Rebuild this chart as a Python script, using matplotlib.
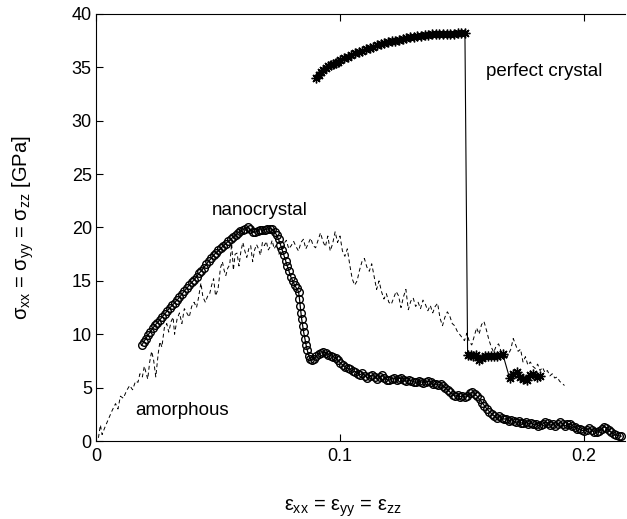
import matplotlib
matplotlib.use("Agg")
import matplotlib.pyplot as plt

plt.rcParams['font.family'] = ['Liberation Sans', 'DejaVu Sans']
plt.rcParams['mathtext.fontset'] = 'custom'
plt.rcParams['mathtext.rm'] = 'Liberation Sans'
plt.rcParams['mathtext.it'] = 'Liberation Sans'
plt.rcParams['mathtext.bf'] = 'Liberation Sans:bold'

# nanocrystal (open circles)
nano_x = [0.0187, 0.0195, 0.0203, 0.0212, 0.0222, 0.0232, 0.0242, 0.0252, 0.0262, 0.0272,
          0.0282, 0.0292, 0.0302, 0.0312, 0.0322, 0.0332, 0.0342, 0.0352, 0.0362, 0.0372,
          0.0382, 0.0392, 0.0402, 0.0412, 0.0422, 0.0432, 0.0442, 0.0452, 0.0462, 0.0472,
          0.0482, 0.0492, 0.0502, 0.0512, 0.0522, 0.0532, 0.0542, 0.0552, 0.0562, 0.0572,
          0.0582, 0.0592, 0.0602, 0.0612, 0.0622, 0.0632, 0.0642, 0.0652, 0.0662, 0.0672,
          0.0682, 0.0692, 0.0702, 0.0712, 0.0722, 0.0732, 0.0740, 0.0748, 0.0756, 0.0763,
          0.0770, 0.0777, 0.0784, 0.0791, 0.0798, 0.0806, 0.0814, 0.0822, 0.0830, 0.0834,
          0.0837, 0.0840, 0.0843, 0.0847, 0.0851, 0.0856, 0.0861, 0.0866, 0.0872, 0.0878,
          0.0885, 0.0893, 0.0902, 0.0912, 0.0922, 0.0932, 0.0942, 0.0952, 0.0962, 0.0972,
          0.0982, 0.0992, 0.1002, 0.1012, 0.1022, 0.1032, 0.1042, 0.1052, 0.1062, 0.1072,
          0.1082, 0.1092, 0.1102, 0.1112, 0.1122, 0.1132, 0.1142, 0.1152, 0.1162, 0.1172,
          0.1182, 0.1192, 0.1202, 0.1212, 0.1222, 0.1232, 0.1242, 0.1252, 0.1262, 0.1272,
          0.1282, 0.1292, 0.1302, 0.1312, 0.1322, 0.1332, 0.1342, 0.1352, 0.1362, 0.1372,
          0.1382, 0.1392, 0.1402, 0.1412, 0.1422, 0.1432, 0.1442, 0.1452, 0.1462, 0.1472,
          0.1482, 0.1492, 0.1502, 0.1512, 0.1522, 0.1532, 0.1542, 0.1552, 0.1562, 0.1572,
          0.1582, 0.1592, 0.1602, 0.1612, 0.1622, 0.1632, 0.1642, 0.1652, 0.1662, 0.1672,
          0.1682, 0.1692, 0.1702, 0.1712, 0.1722, 0.1732, 0.1742, 0.1752, 0.1762, 0.1772,
          0.1782, 0.1792, 0.1802, 0.1812, 0.1822, 0.1832, 0.1842, 0.1852, 0.1862, 0.1872,
          0.1882, 0.1892, 0.1902, 0.1912, 0.1922, 0.1932, 0.1942, 0.1952, 0.1962, 0.1972,
          0.1982, 0.1992, 0.2002, 0.2012, 0.2022, 0.2032, 0.2042, 0.2052, 0.2062, 0.2072,
          0.2082, 0.2092, 0.2102, 0.2112, 0.2122, 0.2132, 0.2142, 0.2152]
nano_y = [8.97, 9.25, 9.55, 9.9, 10.2, 10.55, 10.85, 11.1, 11.35, 11.65,
          11.9, 12.2, 12.45, 12.7, 12.95, 13.2, 13.45, 13.75, 14.05, 14.3,
          14.6, 14.85, 15.1, 15.4, 15.7, 15.95, 16.25, 16.55, 16.85, 17.1,
          17.4, 17.65, 17.85, 18.05, 18.3, 18.5, 18.7, 18.9, 19.1, 19.3,
          19.5, 19.65, 19.8, 19.9, 20.0, 19.85, 19.6, 19.55, 19.7, 19.8,
          19.75, 19.8, 19.85, 19.9, 19.85, 19.6, 19.3, 18.9, 18.4, 17.9,
          17.4, 16.9, 16.4, 15.9, 15.4, 15.0, 14.6, 14.3, 14.0, 13.3,
          12.6, 12.0, 11.4, 10.8, 10.2, 9.6, 9.0, 8.5, 8.0, 7.7,
          7.55, 7.7, 7.95, 8.15, 8.25, 8.3, 8.25, 8.1, 8.0, 7.9,
          7.8, 7.55, 7.3, 7.1, 6.95, 6.8, 6.7, 6.55, 6.5, 6.3,
          6.2, 6.35, 6.1, 5.9, 6.05, 6.2, 6.0, 5.8, 6.0, 6.15,
          5.9, 5.75, 5.7, 5.85, 5.9, 5.75, 5.85, 5.9, 5.75, 5.6,
          5.7, 5.65, 5.55, 5.5, 5.6, 5.55, 5.45, 5.5, 5.6, 5.5,
          5.3, 5.35, 5.25, 5.3, 5.15, 5.0, 4.8, 4.55, 4.35, 4.2,
          4.3, 4.15, 4.25, 4.1, 4.2, 4.45, 4.6, 4.4, 4.2, 3.9,
          3.6, 3.3, 3.0, 2.75, 2.55, 2.35, 2.2, 2.3, 2.15, 2.05,
          2.1, 1.9, 2.0, 1.85, 1.75, 1.85, 1.7, 1.65, 1.75, 1.6,
          1.7, 1.55, 1.6, 1.45, 1.5, 1.6, 1.75, 1.65, 1.5, 1.55,
          1.45, 1.6, 1.75, 1.6, 1.4, 1.55, 1.6, 1.45, 1.3, 1.15,
          1.1, 1.0, 0.95, 1.05, 1.2, 1.0, 0.85, 0.8, 0.95, 1.15,
          1.3, 1.25, 1.0, 0.8, 0.65, 0.55, 0.5, 0.45]

# perfect crystal (asterisks)
perf_x = [0.0902, 0.0912, 0.0922, 0.0932, 0.0942, 0.0952, 0.0962, 0.0972, 0.0982, 0.0992,
          0.1002, 0.1017, 0.1032, 0.1047, 0.1062, 0.1077, 0.1092, 0.1107, 0.1122, 0.1137,
          0.1152, 0.1167, 0.1182, 0.1197, 0.1212, 0.1227, 0.1242, 0.1257, 0.1272, 0.1287,
          0.1302, 0.1317, 0.1332, 0.1347, 0.1362, 0.1377, 0.1392, 0.1407, 0.1422, 0.1437,
          0.1452, 0.1467, 0.1482, 0.1497, 0.1512, 0.1523, 0.1535, 0.1547, 0.1559, 0.1571,
          0.1583, 0.1595, 0.1607, 0.1619, 0.1631, 0.1643, 0.1655, 0.1667, 0.1695, 0.1710,
          0.1724, 0.1738, 0.1752, 0.1766, 0.1780, 0.1792, 0.1806, 0.1820]
perf_y = [33.98, 34.3, 34.55, 34.76, 34.95, 35.1, 35.25, 35.35, 35.45, 35.55,
          35.65, 35.85, 36.0, 36.15, 36.3, 36.45, 36.55, 36.7, 36.8, 36.95,
          37.05, 37.15, 37.25, 37.35, 37.45, 37.5, 37.6, 37.65, 37.75, 37.8,
          37.85, 37.9, 37.95, 38.0, 38.05, 38.1, 38.1, 38.1, 38.15, 38.15,
          38.15, 38.15, 38.2, 38.2, 38.2, 8.05, 8.05, 8.0, 8.05, 7.6,
          7.8, 7.95, 8.0, 7.95, 8.0, 7.95, 8.05, 8.15, 5.9, 6.3,
          6.5, 6.0, 5.8, 5.7, 6.2, 6.3, 6.0, 6.1]

# amorphous (dashed)
amor_x = [0.0010, 0.0018, 0.0025, 0.0035, 0.0050, 0.0065, 0.0080, 0.0090, 0.0100, 0.0112,
          0.0125, 0.0138, 0.0150, 0.0162, 0.0172, 0.0180, 0.0190, 0.0198, 0.0205, 0.0212,
          0.0220, 0.0228, 0.0236, 0.0245, 0.0255, 0.0262, 0.0270, 0.0280, 0.0290, 0.0298,
          0.0308, 0.0316, 0.0322, 0.0332, 0.0342, 0.0352, 0.0362, 0.0372, 0.0382, 0.0392,
          0.0402, 0.0412, 0.0420, 0.0430, 0.0438, 0.0448, 0.0458, 0.0466, 0.0474, 0.0482,
          0.0490, 0.0500, 0.0510, 0.0518, 0.0525, 0.0532, 0.0540, 0.0548, 0.0556, 0.0563,
          0.0570, 0.0578, 0.0586, 0.0594, 0.0602, 0.0610, 0.0618, 0.0626, 0.0634, 0.0642,
          0.0650, 0.0658, 0.0666, 0.0674, 0.0682, 0.0690, 0.0698, 0.0706, 0.0714, 0.0722,
          0.0730, 0.0740, 0.0750, 0.0760, 0.0770, 0.0780, 0.0790, 0.0800, 0.0810, 0.0820,
          0.0830, 0.0840, 0.0850, 0.0860, 0.0870, 0.0880, 0.0890, 0.0900, 0.0910, 0.0920,
          0.0930, 0.0940, 0.0950, 0.0960, 0.0970, 0.0980, 0.0990, 0.1000, 0.1010, 0.1020,
          0.1030, 0.1040, 0.1050, 0.1060, 0.1070, 0.1080, 0.1090, 0.1100, 0.1110, 0.1120,
          0.1130, 0.1140, 0.1150, 0.1160, 0.1170, 0.1180, 0.1190, 0.1200, 0.1210, 0.1220,
          0.1230, 0.1240, 0.1250, 0.1260, 0.1270, 0.1280, 0.1290, 0.1300, 0.1310, 0.1320,
          0.1330, 0.1340, 0.1350, 0.1360, 0.1370, 0.1380, 0.1390, 0.1400, 0.1410, 0.1420,
          0.1430, 0.1440, 0.1450, 0.1460, 0.1470, 0.1480, 0.1490, 0.1500, 0.1510, 0.1520,
          0.1530, 0.1540, 0.1550, 0.1560, 0.1570, 0.1580, 0.1590, 0.1600, 0.1610, 0.1620,
          0.1630, 0.1640, 0.1650, 0.1660, 0.1670, 0.1680, 0.1690, 0.1700, 0.1710, 0.1720,
          0.1730, 0.1740, 0.1750, 0.1760, 0.1770, 0.1780, 0.1790, 0.1800, 0.1810, 0.1820,
          0.1830, 0.1840, 0.1850, 0.1860, 0.1870, 0.1880, 0.1890, 0.1900, 0.1910, 0.1920]
amor_y = [0.3, 1.5, 0.6, 1.2, 2.0, 2.8, 3.5, 3.0, 4.2, 4.0,
          4.7, 5.2, 4.8, 5.6, 5.5, 6.3, 6.0, 7.0, 6.4, 5.8,
          7.4, 8.4, 7.6, 6.0, 8.2, 9.3, 8.8, 10.6, 11.0, 10.2,
          11.2, 11.6, 10.0, 11.4, 12.0, 11.0, 12.4, 12.0, 11.6, 12.6,
          13.0, 12.5, 13.4, 14.8, 13.5, 13.0, 13.6, 13.8, 14.6, 15.2,
          13.6, 14.2, 16.2, 16.8, 16.0, 15.5, 16.2, 16.5, 18.5, 16.0,
          17.5, 17.6, 16.4, 17.8, 18.6, 17.8, 17.2, 18.0, 18.3, 16.8,
          17.9, 18.4, 18.0, 17.4, 18.6, 18.3, 18.7, 17.9, 18.2, 18.8,
          18.0, 18.4, 17.5, 17.8, 18.5, 18.8, 18.0, 18.3, 18.7, 18.2,
          17.8, 18.6, 18.9, 18.0, 18.5, 19.0, 18.3, 18.1, 18.8, 19.5,
          18.7, 18.2, 19.2, 17.8, 18.5, 19.6, 18.6, 19.2, 17.8, 17.3,
          18.0, 16.5, 15.2, 14.6, 15.0, 16.0, 16.8, 17.1, 16.3, 15.9,
          16.6, 15.4, 14.2, 15.0, 14.0, 13.3, 13.8, 13.0, 12.8, 13.4,
          14.0, 13.6, 12.5, 13.5, 14.2, 12.3, 13.1, 13.4, 12.6, 13.0,
          12.4, 13.2, 12.8, 12.2, 12.7, 12.0, 12.6, 12.9, 11.5, 10.8,
          11.6, 12.1, 11.7, 11.0, 10.8, 10.3, 10.0, 9.7, 9.4, 10.1,
          9.3, 9.0, 9.8, 10.6, 10.0, 10.9, 11.2, 10.4, 9.5, 8.8,
          8.3, 8.9, 9.1, 8.4, 8.0, 7.6, 8.1, 8.6, 9.6, 9.0,
          8.4, 8.6, 7.4, 7.9, 7.1, 7.4, 7.0, 6.8, 7.2, 6.6,
          6.9, 6.4, 6.6, 6.1, 6.3, 5.9, 6.0, 5.6, 5.4, 5.2]

x_ticks = [0, 0.1, 0.2]
x_ticklabels = ['0', '0.1', '0.2']
y_ticks = [0, 5, 10, 15, 20, 25, 30, 35, 40]

fig = plt.figure(figsize=(6.27, 5.19), dpi=100)
ax = fig.add_axes([96/627, 1-441/519, (625-96)/627, (441-14)/519])

ax.plot(amor_x, amor_y, color='black', lw=0.7, dashes=(4, 3))
ax.plot(nano_x, nano_y, color='black', lw=0.9, marker='o', markersize=5.5,
        markerfacecolor='none', markeredgecolor='black', markeredgewidth=1.0)
ax.plot(perf_x, perf_y, color='black', lw=0.8, marker=(8, 2, 0), markersize=7,
        markeredgewidth=1.0)

ax.set_xlim(0, (625-96)/2440)
ax.set_ylim(0, 40)
ax.set_xticks(x_ticks)
ax.set_xticklabels(x_ticklabels)
ax.set_yticks(y_ticks)
ax.tick_params(direction='in', length=5, width=0.8, labelsize=13, top=True, right=False, pad=5)
ax.tick_params(axis='y', pad=3)
ax.spines['right'].set_visible(False)
for s in ['left', 'top', 'bottom']:
    ax.spines[s].set_linewidth(0.8)

ax.set_xlabel(r'$ε_{xx}$ = $ε_{yy}$ = $ε_{zz}$', fontsize=14.5)
ax.set_ylabel(r'$σ_{xx}$ = $σ_{yy}$ = $σ_{zz}$ [GPa]', fontsize=14.5)
ax.xaxis.set_label_coords((343-96)/529, (441-508)/427)
ax.xaxis.label.set_va('center')
ax.yaxis.set_label_coords((23-96)/529, 0.5)
ax.yaxis.label.set_va('center')

ax.text(0.160, 34.6, 'perfect crystal', fontsize=13.5, va='center', ha='left')
ax.text(0.0475, 21.6, 'nanocrystal', fontsize=13.5, va='center', ha='left')
ax.text(0.016, 2.9, 'amorphous', fontsize=13.5, va='center', ha='left')

fig.savefig('out.png', dpi=100)
